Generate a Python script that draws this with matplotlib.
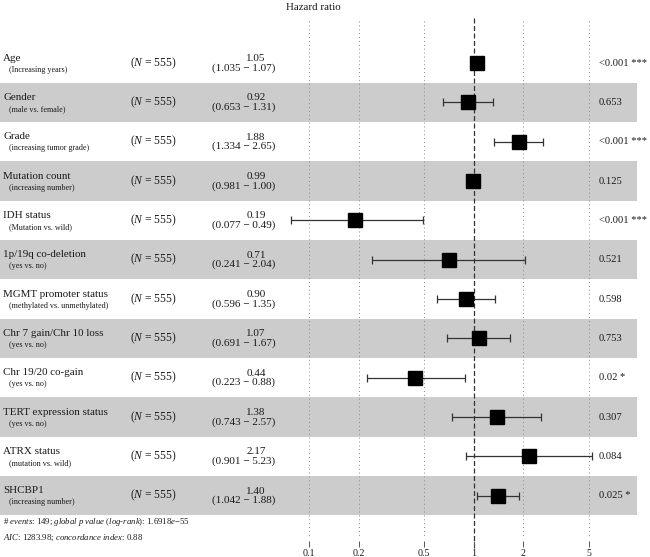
import matplotlib
matplotlib.use("Agg")
import matplotlib.pyplot as plt
import numpy as np

plt.rcParams['font.family'] = ['Liberation Serif', 'DejaVu Serif']
plt.rcParams['mathtext.fontset'] = 'custom'
plt.rcParams['mathtext.rm'] = 'Liberation Serif'
plt.rcParams['mathtext.it'] = 'Liberation Serif:italic'

# data
variables = ["Age", "Gender", "Grade", "Mutation count", "IDH status",
             "1p/19q co-deletion", "MGMT promoter status",
             "Chr 7 gain/Chr 10 loss", "Chr 19/20 co-gain",
             "TERT expression status", "ATRX status", "SHCBP1"]
subtitles = ["(Increasing years)", "(male vs. female)", "(increasing tumor grade)",
             "(increasing number)", "(Mutation vs. wild)", "(yes vs. no)",
             "(methylated vs. unmethylated)", "(yes vs. no)", "(yes vs. no)",
             "(yes vs. no)", "(mutation vs. wild)", "(increasing number)"]
n_obs = [555] * 12
hr = [1.05, 0.92, 1.88, 0.99, 0.19, 0.71, 0.90, 1.07, 0.44, 1.38, 2.17, 1.40]
ci_low = [1.035, 0.653, 1.334, 0.981, 0.077, 0.241, 0.596, 0.691, 0.223, 0.743, 0.901, 1.042]
ci_high = [1.07, 1.31, 2.65, 1.00, 0.49, 2.04, 1.35, 1.67, 0.88, 2.57, 5.23, 1.88]
p_text = ["<0.001 ***", "0.653", "<0.001 ***", "0.125", "<0.001 ***", "0.521",
          "0.598", "0.753", "0.02 *", "0.307", "0.084", "0.025 *"]
ticks = [0.1, 0.2, 0.5, 1, 2, 5]
footer1 = r"# $\mathit{events}$: 149; $\mathit{global\ p\ value}$ ($\mathit{log}$-$\mathit{rank}$): 1.6918$\mathit{e}$$-$55"
footer2 = r"$\mathit{AIC}$: 1283.98; $\mathit{concordance\ index}$: 0.88"

W, H = 650, 557
fig = plt.figure(figsize=(W / 100, H / 100), dpi=100)
top_px, bot_px = 18, 541
ax = fig.add_axes([0, 1 - bot_px / H, 1, (bot_px - top_px) / H])
ax.set_xscale('log')
one_px, decade = 473.7, 164.4
ax.set_xlim(10 ** (-one_px / decade), 10 ** ((W - one_px) / decade))
ax.set_ylim(bot_px, top_px)

row0, step = 63.05, 39.33
ys = row0 + step * np.arange(len(variables))
tc = '#1a1a1a'
tr = ax.get_yaxis_transform()

for i, y in enumerate(ys):
    if i % 2 == 1:
        ax.axhspan(y - step / 2, y + step / 2, xmin=0, xmax=637 / W,
                   color='#cccccc', lw=0, zorder=0)

# grid lines
for t in ticks:
    if t == 1:
        ax.vlines(t, 18, 548, colors='#333333', lw=0.9, linestyles=(0, (4, 2)),
                  clip_on=False, zorder=1)
    else:
        ax.vlines(t, 21, 538, colors='#888888', lw=0.7, linestyles=(0, (1, 3)),
                  zorder=1)

hr_a = np.array(hr)
ax.errorbar(hr_a, ys, xerr=[hr_a - np.array(ci_low), np.array(ci_high) - hr_a],
            fmt='none', ecolor='#333333', elinewidth=0.9, capsize=2.6,
            capthick=0.9, zorder=2)
ax.plot(hr_a, ys, 's', ms=9.4, color='black', zorder=3)

for i, y in enumerate(ys):
    ax.text(3 / W, y - 5, variables[i], transform=tr, ha='left', va='center',
            fontsize=7.9, color=tc)
    ax.text(9 / W, y + 6.5, subtitles[i], transform=tr, ha='left', va='center',
            fontsize=5.9, color=tc)
    ax.text(153 / W, y, r"($N$ = %d)" % n_obs[i], transform=tr, ha='center',
            va='center', fontsize=8.4, color=tc)
    ax.text(256 / W, y - 4.5, "%.2f" % hr[i], transform=tr, ha='center',
            va='center', fontsize=8.0, color=tc)
    ax.text(244 / W, y + 4.8, "(%.3f \u2212 %.2f)" % (ci_low[i], ci_high[i]),
            transform=tr, ha='center', va='center', fontsize=8.0, color=tc)
    ax.text(599 / W, y, p_text[i], transform=tr, ha='left', va='center',
            fontsize=7.6, color=tc)

ax.set_xticks(ticks)
ax.set_xticklabels([str(t) for t in ticks])
ax.xaxis.set_minor_locator(matplotlib.ticker.NullLocator())
ax.tick_params(axis='x', length=4, width=0.7, color='#555555', pad=1.5,
               labelsize=7.2, labelcolor=tc)
ax.set_yticks([])
for s in ax.spines.values():
    s.set_visible(False)

fig.text(313 / W, 1 - 8 / H, "Hazard ratio", ha='center', va='center',
         fontsize=7.8, color=tc)
fig.text(3 / W, 1 - 522 / H, footer1, ha='left', va='center', fontsize=6.3, color=tc)
fig.text(3 / W, 1 - 538 / H, footer2, ha='left', va='center', fontsize=6.3, color=tc)

fig.savefig("out.png", dpi=100)
